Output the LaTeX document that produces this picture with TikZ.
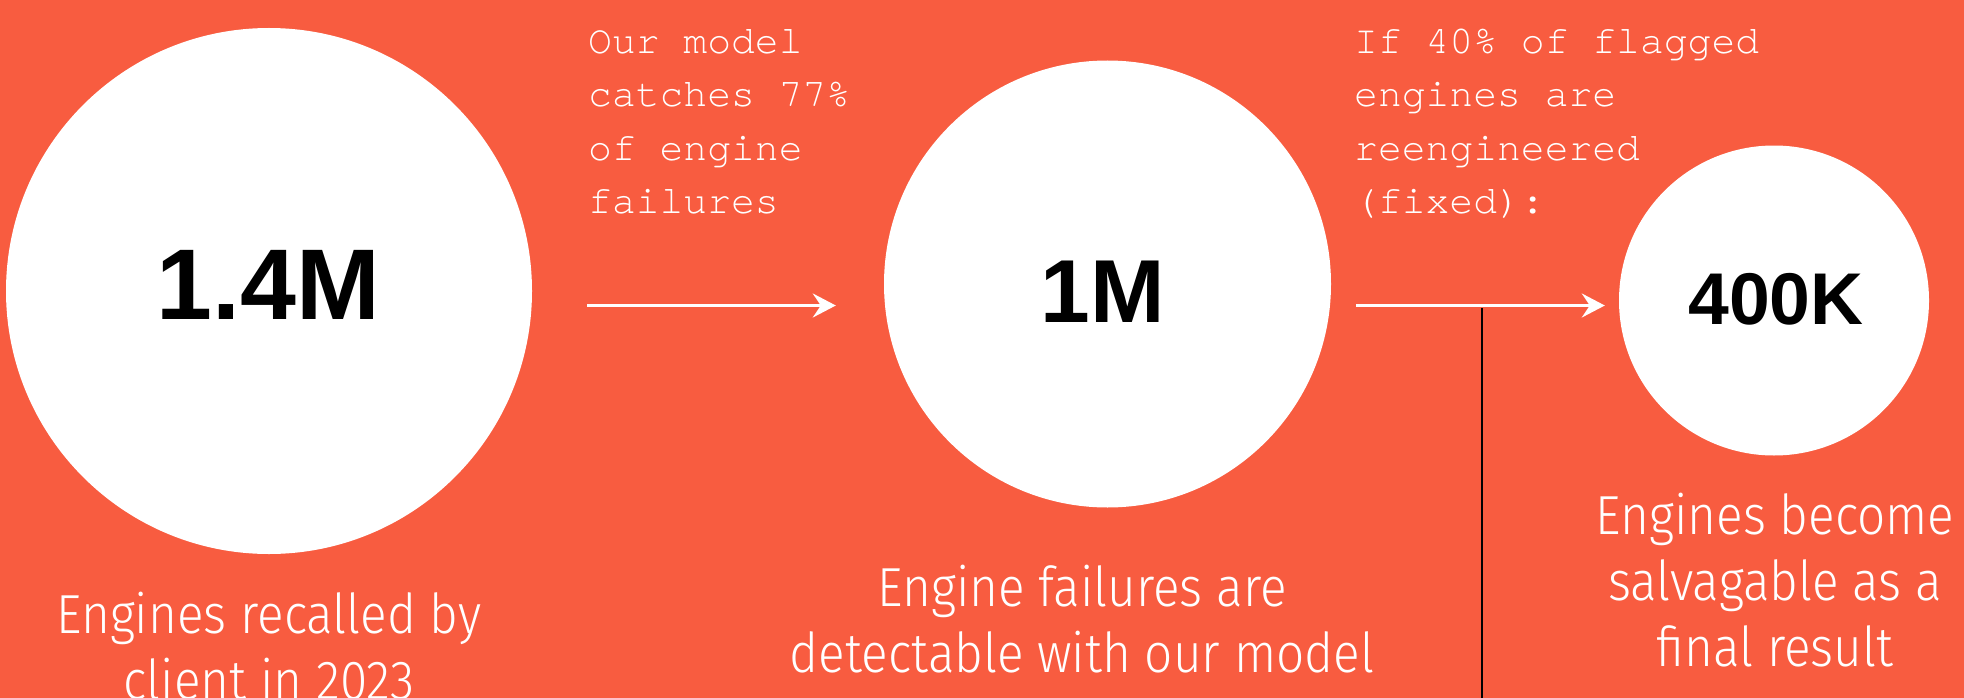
\documentclass[tikz,border=0pt]{standalone}
\usepackage{fontspec}
\setmainfont{Liberation Sans}
\newfontfamily\monofont{TeX Gyre Cursor}[Ligatures=NoCommon]
\newfontfamily\capfont{Fira Sans Light}[FakeStretch=0.9]
\usetikzlibrary{arrows.meta, calc}
\definecolor{cBg}{HTML}{F85C40}
\definecolor{cInk}{HTML}{000000}
\tikzset{
  bubble/.style={circle, fill=white, inner sep=0pt},
  tally/.style={font=\bfseries\fontsize{#1}{#1}\selectfont, text=cInk, inner sep=0pt},
  note/.style={font=\monofont\fontsize{39.7}{53.5}\selectfont, text=white, align=left,
    anchor=base west, inner sep=0pt},
  caption/.style={font=\capfont\fontsize{55}{66}\selectfont, text=white, align=center,
    anchor=base, inner sep=0pt},
  flow/.style={-{Stealth[length=23pt, width=24pt, inset=8pt]}, draw=white, line width=2.8pt},
  stem/.style={draw=cInk, line width=1.3pt},
}
\begin{document}
\begin{tikzpicture}[x=1pt, y=-1pt]
\fill[cBg] (0,0) rectangle (1964,698);
\useasboundingbox (0,0) rectangle (1964,698);
\clip (0,0) rectangle (1964,698);

% the three totals
\node[bubble, minimum size=526pt] (recall) at (269,291) {};
\node[bubble, minimum size=447pt] (detect) at (1107.5,284) {};
\node[bubble, minimum size=310pt] (salvage) at (1774,300.5) {};
\node[tally=100.5] (nRecall) at (268.6,285) {1.4M};
\node[tally=89.4] (nDetect) at (1102.5,292) {1M};
\node[tally=73.3] (nSalvage) at (1776,299) {400K};

% steps between them (anchored on the last line)
\node[note] (whyDetect) at (588,213.5) {Our model\\catches 77\%\\of engine\\failures};
\node[note] (whySalvage) at (1354,213.5) {If 40\% of flagged\\engines are\\reengineered\\(fixed):};

\coordinate (lane) at (0,305.5);
\foreach \a/\b/\s/\e in {recall/detect/55/48, detect/salvage/25/14}
  \draw[flow, shorten <=\s pt, shorten >=\e pt] (\a.east |- lane) -- (\b.west |- lane);

\coordinate (drop) at (1482,308);
\coordinate (floor) at (0,698);
\draw[stem] (drop) -- (drop |- floor);

% captions
\node[caption] (capRecall) at (269,699) {Engines recalled by\\client in 2023};
\node[caption] (capDetect) at (1082,672.7) {Engine failures are\\detectable with our model};
\node[caption] (capSalvage) at (1775,666) {Engines become\\salvagable as a\\final result};
\end{tikzpicture}
\end{document}
